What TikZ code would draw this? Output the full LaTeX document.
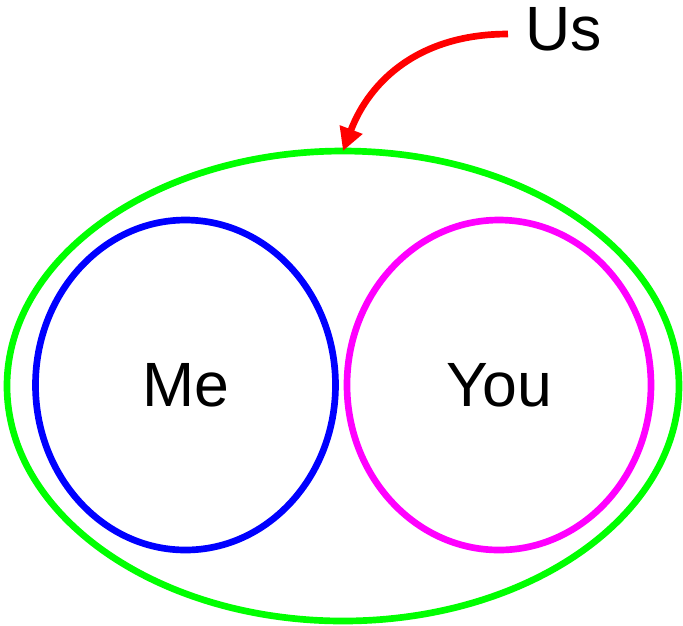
\documentclass[tikz,border=0pt]{standalone}
\usepackage{fontspec}
\setmainfont{Liberation Sans}
\usetikzlibrary{shapes.geometric,arrows.meta}
\definecolor{setgreen}{RGB}{0,255,0}
\definecolor{setblue}{RGB}{0,0,255}
\definecolor{setpink}{RGB}{255,0,255}
\definecolor{arrowred}{RGB}{255,0,0}

\begin{document}
\begin{tikzpicture}[every node/.style={font=\fontsize{17.8}{22}\selectfont},
		set/.style={ellipse, line width=1.9pt, inner sep=0pt, outer sep=0pt}]
		% One unit is 100 px of the picture, y runs downwards as negative.
		\def\lw{1.9pt}
		\useasboundingbox (0,0) rectangle (6.83,-6.25);

		% The outer set and the two inner ones.
		\node[set, draw=setgreen, minimum width=6.72cm, minimum height=4.70cm]
			(us) at (3.43,-3.86) {};
		\node[set, draw=setblue, minimum width=3.00cm, minimum height=3.30cm]
			(me) at (1.855,-3.85) {Me};
		\node[set, draw=setpink, minimum width=3.04cm, minimum height=3.30cm]
			(you) at (4.99,-3.85) {You};

		% Label of the outer set, with its arrow.
		\node[anchor=base west, inner sep=0pt] (uslabel) at (5.25,-0.50) {Us};
		\coordinate (usfoot) at ([shift={(-0.17,0.16)}]uslabel.base west);
		\draw[arrowred, line width=\lw, -{Triangle[length=0.23cm, width=0.23cm]}]
			(usfoot) .. controls (4.20,-0.34) and (3.70,-0.80) .. (us.north);
	\end{tikzpicture}
\end{document}
